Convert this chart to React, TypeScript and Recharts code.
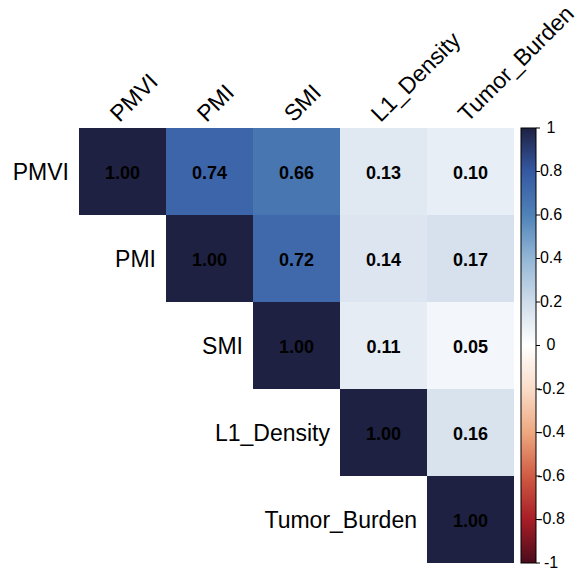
import { ScatterChart, Scatter, XAxis, YAxis, usePlotArea } from "recharts";

// correlation matrix (upper triangle)
const variables = ["PMVI", "PMI", "SMI", "L1_Density", "Tumor_Burden"];
const rowPMVI = [1.0, 0.74, 0.66, 0.13, 0.1];
const rowPMI = [null, 1.0, 0.72, 0.14, 0.17];
const rowSMI = [null, null, 1.0, 0.11, 0.05];
const rowL1 = [null, null, null, 1.0, 0.16];
const rowTumor = [null, null, null, null, 1.0];
const colorbarTicks = [-1, -0.8, -0.6, -0.4, -0.2, 0, 0.2, 0.4, 0.6, 0.8, 1];

// RdBu-like palette from -1 to 1
const palette = [
  "#4b0c1b", "#a81d27", "#cf5c43", "#eea87f", "#f9dcc8", "#ffffff",
  "#cfdcea", "#93b6d6", "#4f82b8", "#3559a2", "#1e2142",
];

const FONT = "'Liberation Sans', Arial, Helvetica, sans-serif";

function hexToRgb(h: string) {
  const n = parseInt(h.slice(1), 16);
  return [(n >> 16) & 255, (n >> 8) & 255, n & 255];
}

function colorFor(v: number) {
  const t = ((v + 1) / 2) * (palette.length - 1);
  const i = Math.min(Math.floor(t), palette.length - 2);
  const f = t - i;
  const a = hexToRgb(palette[i]);
  const b = hexToRgb(palette[i + 1]);
  const c = a.map((x, k) => Math.round(x + (b[k] - x) * f));
  return `rgb(${c[0]},${c[1]},${c[2]})`;
}

const rows = [rowPMVI, rowPMI, rowSMI, rowL1, rowTumor];
const cells: { x: number; y: number; r: number; row: number; col: number }[] = [];
rows.forEach((vals, row) =>
  vals.forEach((r, col) => {
    if (r !== null) cells.push({ x: col + 0.5, y: row + 0.5, r, row, col });
  })
);

// invisible points so the colour-bar axis has something bound to it
const cbPoints = colorbarTicks.map((v) => ({ x: 5, y: v }));

function HeatCell(props: any) {
  const area = usePlotArea();
  const { cx, cy, payload } = props;
  if (!area || cx == null || cy == null) return null;
  const w = area.width / variables.length;
  const h = area.height / variables.length;
  return (
    <g>
      <rect x={cx - w / 2} y={cy - h / 2} width={w} height={h} fill={colorFor(payload.r)} />
      <text
        x={cx}
        y={cy + 1}
        textAnchor="middle"
        dominantBaseline="central"
        fontFamily={FONT}
        fontWeight="bold"
        fontSize={18}
        fill="#000"
      >
        {payload.r.toFixed(2)}
      </text>
      {payload.row === payload.col && (
        <text
          x={cx - w / 2 - 10}
          y={cy}
          textAnchor="end"
          dominantBaseline="central"
          fontFamily={FONT}
          fontSize={23}
          fill="#000"
        >
          {variables[payload.row]}
        </text>
      )}
    </g>
  );
}

function TopTick(props: any) {
  const { x, y, payload } = props;
  const label = variables[Math.floor(payload.value)];
  const tx = x - 3;
  const ty = y - 5;
  return (
    <text
      x={tx}
      y={ty}
      transform={`rotate(-45, ${tx}, ${ty})`}
      textAnchor="start"
      fontFamily={FONT}
      fontSize={23}
      fill="#000"
    >
      {label}
    </text>
  );
}

function ColorbarTick(props: any) {
  const { x, y, payload } = props;
  return (
    <g>
      <line x1={x + 22} y1={y} x2={x + 26} y2={y} stroke="#000" strokeWidth={1} />
      <text
        x={x + 37}
        y={y - 1}
        textAnchor="middle"
        dominantBaseline="central"
        fontFamily={FONT}
        fontSize={16}
        fill="#000"
      >
        {payload.value}
      </text>
    </g>
  );
}

function Colorbar() {
  const area = usePlotArea();
  if (!area) return null;
  const x = area.x + area.width + 7;
  const stops = palette.slice().reverse();
  return (
    <g>
      <defs>
        <linearGradient id="cbGrad" x1="0" y1="0" x2="0" y2="1">
          {stops.map((c, i) => (
            <stop key={i} offset={`${(i / (stops.length - 1)) * 100}%`} stopColor={c} />
          ))}
        </linearGradient>
      </defs>
      <rect
        x={x}
        y={area.y}
        width={15}
        height={area.height}
        fill="url(#cbGrad)"
        stroke="#000"
        strokeWidth={1}
      />
    </g>
  );
}

export default function App() {
  return (
    <div style={{ position: "absolute", left: 0, top: 0, background: "#fff" }}>
      <ScatterChart
        width={579}
        height={570}
        margin={{ top: 0, left: 79, right: 0, bottom: 7 }}
      >
        <XAxis
          type="number"
          dataKey="x"
          orientation="top"
          domain={[0, 5]}
          ticks={[0.5, 1.5, 2.5, 3.5, 4.5]}
          height={128}
          axisLine={false}
          tickLine={false}
          tickSize={0}
          tickMargin={0}
          interval={0}
          tick={<TopTick />}
        />
        <YAxis type="number" dataKey="y" domain={[0, 5]} reversed hide />
        <YAxis
          yAxisId="cb"
          type="number"
          dataKey="y"
          orientation="right"
          domain={[-1, 1]}
          ticks={colorbarTicks}
          width={65}
          axisLine={false}
          tickLine={false}
          tickSize={0}
          tickMargin={0}
          interval={0}
          tick={<ColorbarTick />}
        />
        <Scatter data={cells} shape={<HeatCell />} isAnimationActive={false} />
        <Scatter
          yAxisId="cb"
          data={cbPoints}
          shape={() => null}
          isAnimationActive={false}
        />
        <Colorbar />
      </ScatterChart>
    </div>
  );
}
